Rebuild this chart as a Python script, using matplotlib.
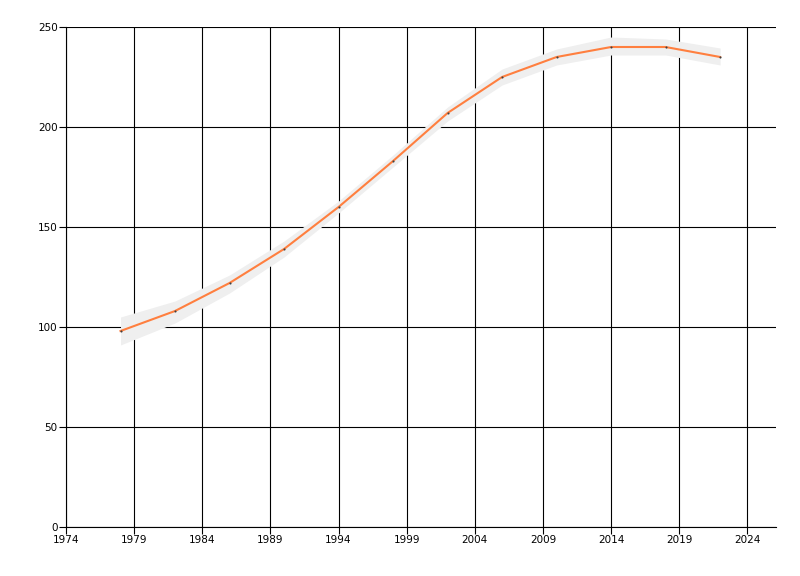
import matplotlib
matplotlib.use("Agg")
import matplotlib.pyplot as plt

years = [1978, 1982, 1986, 1990, 1994, 1998, 2002, 2006, 2010, 2014, 2018, 2022]
values = [98, 108, 122, 139, 160, 183, 207, 225, 235, 240, 240, 235]
upper = [105, 113, 126, 143, 163, 186, 210, 229, 239, 245, 244, 239.5]
lower = [91, 102, 117, 135, 157, 180, 203, 221, 231, 236, 236, 231]
xticks = list(range(1974, 2025, 5))
yticks = [0, 50, 100, 150, 200, 250]

fig = plt.figure(figsize=(8, 5.76), dpi=100)
ax = fig.add_axes([66/800, 1-527/576, (776-66)/800, (527-27)/576])
ax.fill_between(years, lower, upper, color="#efefef", lw=0, zorder=2)
ax.plot(years, values, color="#ff7f3f", lw=1.5, zorder=3)
ax.plot(years, values, ls="none", marker="o", ms=1.5, mew=0, color="#404040", zorder=4)
ax.set_xlim(1974, 2026.1)
ax.set_ylim(0, 250)
ax.set_xticks(xticks)
ax.set_yticks(yticks)
ax.grid(True, color="black", lw=0.8, zorder=1)
ax.set_axisbelow(True)
for s in ["top", "right"]:
    ax.spines[s].set_visible(False)
for s in ["left", "bottom"]:
    ax.spines[s].set_color("black")
    ax.spines[s].set_linewidth(0.8)
ax.tick_params(axis="both", labelsize=7.5, length=5, width=0.8, color="black", pad=1)
fig.savefig("out.png", dpi=100)
